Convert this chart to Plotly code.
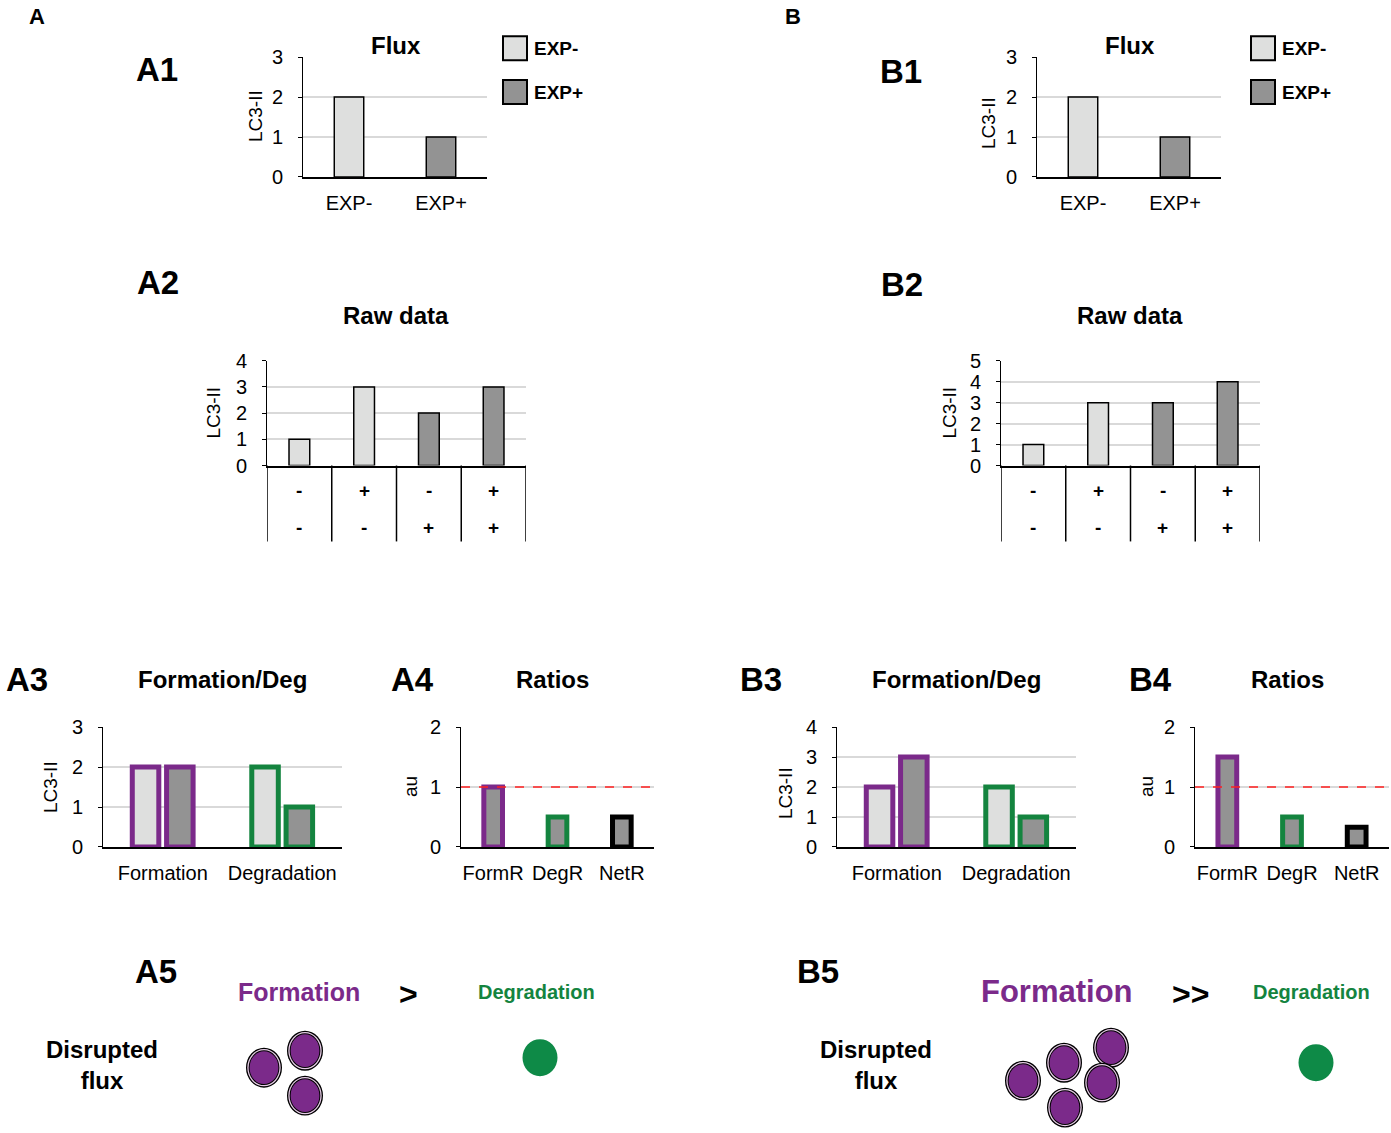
import plotly.graph_objects as go

W, H = 1391, 1133

# ---------------- data ----------------
flux_cats = ["EXP-", "EXP+"]
flux_A = [2, 1]
flux_B = [2, 1]

raw_cats = ["-/-", "+/-", "-/+", "+/+"]
raw_A = [1, 3, 2, 3]
raw_B = [1, 3, 3, 4]
raw_row1 = ["-", "+", "-", "+"]
raw_row2 = ["-", "-", "+", "+"]

fd_cats = ["Formation", "Degradation"]
fd_A_neg = [2, 2]
fd_A_pos = [2, 1]
fd_B_neg = [2, 2]
fd_B_pos = [3, 1]

ratio_cats = ["FormR", "DegR", "NetR"]
ratio_A = [1, 0.5, 0.5]
ratio_B = [1.5, 0.5, 0.33]

# ---------------- styles ----------------
FONT = "Liberation Sans, Arial, sans-serif"
LIGHT = "#DEDFDE"
DARK = "#939393"
PURPLE = "#7B2A8A"
GREEN = "#14843F"
GRID = "#D9D9D9"

# the page capture squeezes the figure vertically a little; compensate
Y_OFF, Y_SCALE = 9.8, 0.982


def px_x(v):
    return v / W


def px_y(v):
    return 1 - ((v - Y_OFF) / Y_SCALE) / H


def dom_x(a, b):
    return [a / W, b / W]


def dom_y(top, bottom):
    return [px_y(bottom), px_y(top)]


fig = go.Figure()

panels = {
    1: ([303, 487], [56, 176], 3, 1),
    2: ([1037, 1221], [56, 176], 3, 1),
    3: ([267, 526], [360, 465], 4, 1),
    4: ([1001, 1260], [360, 465], 5, 1),
    5: ([103, 342], [727, 847], 3, 1),
    6: ([461, 654], [727, 847], 2, 1),
    7: ([837, 1076], [727, 847], 4, 1),
    8: ([1195, 1389], [727, 847], 2, 1),
}
ncats = {1: 2, 2: 2, 3: 4, 4: 4, 5: 2, 6: 3, 7: 2, 8: 3}

layout_axes = {}
for i, (xr, yr, ymax, dt) in panels.items():
    xs = "xaxis" if i == 1 else f"xaxis{i}"
    ys = "yaxis" if i == 1 else f"yaxis{i}"
    layout_axes[xs] = dict(
        domain=dom_x(*xr), anchor=f"y{i}" if i > 1 else "y",
        type="category", range=[-0.5, ncats[i] - 0.5],
        showline=True, linecolor="black", linewidth=1.5,
        showgrid=False, ticks="", showticklabels=i not in (3, 4),
        tickfont=dict(family=FONT, size=20, color="black"),
        ticklabelstandoff=7, fixedrange=True, zeroline=False,
    )
    layout_axes[ys] = dict(
        domain=dom_y(*yr), anchor=f"x{i}" if i > 1 else "x",
        range=[0, ymax], dtick=dt, tick0=0,
        showline=True, linecolor="black", linewidth=1,
        showgrid=True, gridcolor=GRID, gridwidth=1.5,
        ticks="outside", ticklen=4, tickcolor="black", tickwidth=1,
        tickfont=dict(family=FONT, size=20, color="black"),
        ticklabelstandoff=11, zeroline=False, fixedrange=True,
    )


def axref(i):
    return ("x", "y") if i == 1 else (f"x{i}", f"y{i}")


# A1 / B1 flux bars
for i, vals in ((1, flux_A), (2, flux_B)):
    xa, ya = axref(i)
    fig.add_trace(go.Bar(
        x=flux_cats, y=vals, xaxis=xa, yaxis=ya, width=0.32, offset=-0.16,
        marker=dict(color=[LIGHT, DARK], line=dict(color="black", width=1.5)),
        showlegend=False, hoverinfo="skip"))

# A2 / B2 raw data bars
for i, vals in ((3, raw_A), (4, raw_B)):
    xa, ya = axref(i)
    fig.add_trace(go.Bar(
        x=raw_cats, y=vals, xaxis=xa, yaxis=ya, width=0.32, offset=-0.16,
        marker=dict(color=[LIGHT, LIGHT, DARK, DARK],
                    line=dict(color="black", width=1.5)),
        showlegend=False, hoverinfo="skip"))

# A3 / B3 formation / degradation
for i, neg, pos in ((5, fd_A_neg, fd_A_pos), (7, fd_B_neg, fd_B_pos)):
    xa, ya = axref(i)
    fig.add_trace(go.Bar(
        x=fd_cats, y=neg, xaxis=xa, yaxis=ya, width=0.222, offset=-0.255,
        marker=dict(color=LIGHT, line=dict(color=[PURPLE, GREEN], width=5)),
        showlegend=False, hoverinfo="skip"))
    fig.add_trace(go.Bar(
        x=fd_cats, y=pos, xaxis=xa, yaxis=ya, width=0.222, offset=0.032,
        marker=dict(color=DARK, line=dict(color=[PURPLE, GREEN], width=5)),
        showlegend=False, hoverinfo="skip"))

# A4 / B4 ratios
for i, vals in ((6, ratio_A), (8, ratio_B)):
    xa, ya = axref(i)
    fig.add_trace(go.Bar(
        x=ratio_cats, y=vals, xaxis=xa, yaxis=ya, width=0.29, offset=-0.145,
        marker=dict(color=DARK, line=dict(color=[PURPLE, GREEN, "black"], width=5)),
        showlegend=False, hoverinfo="skip"))

shapes = []
annotations = []


def text(x, y, s, size, bold=True, color="black", angle=0, xanchor="center"):
    annotations.append(dict(
        x=px_x(x), y=px_y(y), xref="paper", yref="paper", text=f"<b>{s}</b>" if bold else s,
        showarrow=False, xanchor=xanchor, yanchor="middle", textangle=angle,
        font=dict(family=FONT, size=size, color=color)))


# section letters
text(37, 15, "A", 22)
text(793, 15, "B", 22)

# panel labels
for s, x, y in (("A1", 157, 68), ("B1", 901, 70), ("A2", 158, 282), ("B2", 902, 284),
                ("A3", 27, 679), ("A4", 412, 679), ("B3", 761, 679), ("B4", 1150, 679),
                ("A5", 156, 972), ("B5", 818, 972)):
    text(x, y, s, 33)

# chart titles
for s, x, y in (("Flux", 396, 44), ("Flux", 1130, 44), ("Raw data", 396, 315),
                ("Raw data", 1130, 315), ("Formation/Deg", 222, 679), ("Ratios", 552, 679),
                ("Formation/Deg", 956, 679), ("Ratios", 1287, 679)):
    text(x, y, s, 24)

# y axis titles
for s, x, y in (("LC3-II", 255, 115), ("LC3-II", 988, 122), ("LC3-II", 214, 412),
                ("LC3-II", 950, 412), ("LC3-II", 50, 787), ("au", 410, 787),
                ("LC3-II", 785, 793), ("au", 1146, 787)):
    text(x, y, s, 19, bold=False, angle=-90)

# legends
for bx in (503, 1251):
    for (y0, y1), col, lab in (((35, 59), LIGHT, flux_cats[0]), ((79, 103), DARK, flux_cats[1])):
        shapes.append(dict(type="rect", xref="paper", yref="paper",
                           x0=px_x(bx), x1=px_x(bx + 24), y0=px_y(y1), y1=px_y(y0),
                           fillcolor=col, line=dict(color="black", width=2)))
        text(bx + 29, (y0 + y1) / 2, lab, 19, xanchor="left")

# raw data condition table
for i in (3, 4):
    xa, ya = axref(i)
    for k in range(len(raw_cats) + 1):
        shapes.append(dict(type="line", xref=xa, yref="paper", x0=k - 0.5, x1=k - 0.5,
                           y0=px_y(541), y1=px_y(465), line=dict(color="black", width=1.5)))
    for k, (r1, r2) in enumerate(zip(raw_row1, raw_row2)):
        for r, yy in ((r1, 490), (r2, 527)):
            annotations.append(dict(x=raw_cats[k], y=px_y(yy), xref=xa, yref="paper",
                                    text=f"<b>{r}</b>", showarrow=False, yanchor="middle",
                                    font=dict(family=FONT, size=19, color="black")))

# dashed reference line at ratio 1
for i in (6, 8):
    xa, ya = axref(i)
    shapes.append(dict(type="line", xref=f"{xa} domain", yref=ya, x0=0, x1=1, y0=1, y1=1,
                       line=dict(color="#FF2020", width=1.5, dash="dash")))

# A5 / B5 schematic
text(299, 992, "Formation", 25, color=PURPLE)
text(408, 994, "&gt;", 32)
text(536, 992, "Degradation", 20, color=GREEN)
text(102, 1065, "Disrupted<br>flux", 24)

text(1057, 992, "Formation", 31, color=PURPLE)
text(1190, 994, "&gt;&gt;", 32)
text(1311, 992, "Degradation", 20, color=GREEN)
text(876, 1065, "Disrupted<br>flux", 24)


def vesicle(cx, cy, rx=18, ry=20):
    for d, col in ((0, "black"), (1.3, "#E6CCE6"), (2.6, "black"), (3.6, PURPLE)):
        shapes.append(dict(type="circle", xref="paper", yref="paper",
                           x0=px_x(cx - rx + d), x1=px_x(cx + rx - d),
                           y0=px_y(cy + ry - d), y1=px_y(cy - ry + d),
                           fillcolor=col, line=dict(width=0), layer="above"))


for cx, cy in ((264, 1068), (305, 1051), (305, 1096)):
    vesicle(cx, cy)
for cx, cy in ((1023, 1081), (1064, 1063), (1111, 1048), (1102, 1083), (1065, 1108)):
    vesicle(cx, cy)

for cx, cy in ((540, 1058), (1316, 1063)):
    shapes.append(dict(type="circle", xref="paper", yref="paper",
                       x0=px_x(cx - 17.5), x1=px_x(cx + 17.5),
                       y0=px_y(cy + 18.5), y1=px_y(cy - 18.5),
                       fillcolor="#0E8A47", line=dict(width=0)))

fig.update_layout(
    width=W, height=H, autosize=False,
    margin=dict(l=0, r=0, t=0, b=0),
    paper_bgcolor="white", plot_bgcolor="white",
    barmode="overlay",
    font=dict(family=FONT, color="black"),
    shapes=shapes, annotations=annotations,
    showlegend=False,
    **layout_axes,
)

fig.write_html(
    "out.html", config={"displayModeBar": False},
    post_script=("document.documentElement.style.margin='0';"
                 "document.body.style.margin='0';"
                 "document.body.style.overflow='hidden';"))
